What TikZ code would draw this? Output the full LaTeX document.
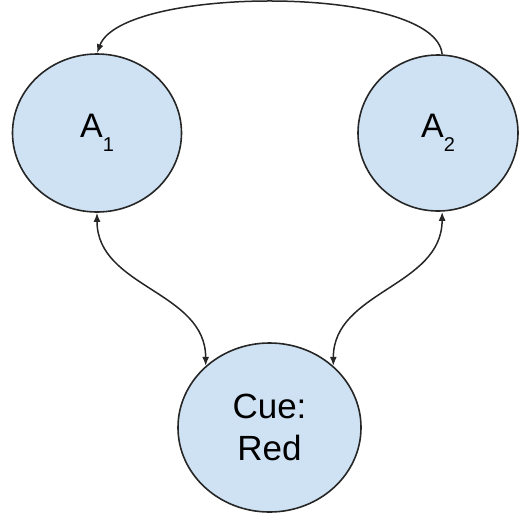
\documentclass[tikz,border=0pt]{standalone}
\usepackage{fontspec}
\setmainfont{Liberation Sans}
\usepackage{tikz}
\usetikzlibrary{shapes,arrows,arrows.meta,positioning}
\usepackage{xcolor}
\definecolor{stateblue}{HTML}{CFE2F3}
\newcommand{\lowidx}[1]{\raisebox{-0.42em}{\fontsize{20}{20}\selectfont #1}}

\begin{document}
\begin{tikzpicture}[
    x=1pt, y=-1pt,
    state/.style={ellipse, draw=black!85, line width=1.6pt, fill=stateblue, inner sep=0pt, align=center},
    arrow/.style={-{Latex[length=9pt,width=7pt]}, line width=1.5pt, draw=black!85},
    biarrow/.style={{Latex[length=9pt,width=7pt]}-{Latex[length=9pt,width=7pt]}, line width=1.5pt, draw=black!85}
]
\useasboundingbox (0,0) rectangle (519,512);

\node[state, minimum width=169pt, minimum height=158pt, font=\fontsize{34}{40}\selectfont] (a1) at (97,133) {A\lowidx{1}};
\node[state, minimum width=160pt, minimum height=156pt, font=\fontsize{34}{40}\selectfont] (a2) at (438,133) {A\lowidx{2}};
\node[state, minimum width=183pt, minimum height=169pt, font=\fontsize{35}{42}\selectfont] (cue) at (269.5,427.5) {Cue:\\Red};

\draw[arrow] (a2.87) .. controls +(-6,-70) and +(25,-68) .. (a1.north);
\draw[biarrow] (a1.south) .. controls +(0,75) and +(0,-75) .. (cue.136);
\draw[biarrow] (a2.87 |- a2.south) .. controls +(0,75) and +(0,-75) .. (cue.44);

\end{tikzpicture}
\end{document}
